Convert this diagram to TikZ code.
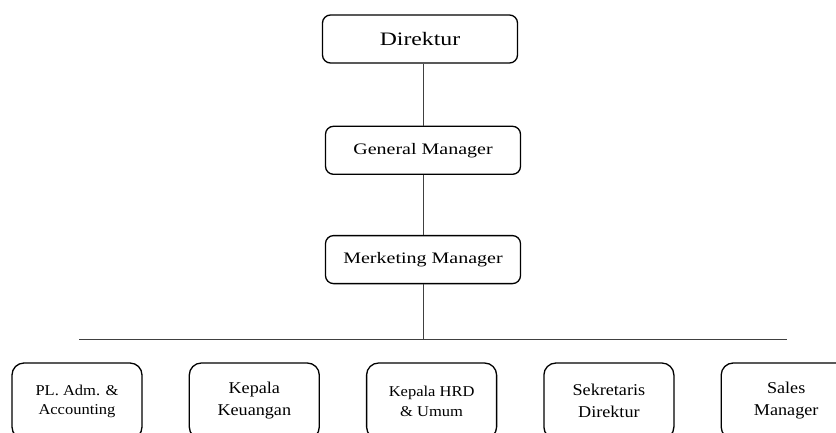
\documentclass[tikz,border=0pt]{standalone}
\usepackage{fontspec}
\setmainfont{Liberation Serif}[FakeStretch=1.25]
\newfontfamily\lowfont{Liberation Serif}[FakeStretch=1.1]
\usepackage{tikz}
\usetikzlibrary{positioning}
\tikzset{
    topbox/.style = {draw, line width=1.3pt, rounded corners=8pt,
                 minimum width=195pt, minimum height=48pt, inner sep=2pt, align=center},
    lowbox/.style = {draw, line width=1.3pt, rounded corners=12pt,
                 minimum width=130pt, minimum height=76pt, inner sep=2pt, align=center},
    link/.style = {line width=0.8pt, black!75},
}

\begin{document}
\begin{tikzpicture}[x=1pt,y=-1pt]
\useasboundingbox (0,0) rectangle (836,432);
 \node (dir) [topbox,font=\fontsize{19}{23}\selectfont] at (420,39) {Direktur};
 \node (gm)  [topbox,font=\fontsize{16}{19}\selectfont,xshift=3pt,node distance=62pt,below=of dir] {General Manager};
 \node (mm)  [topbox,font=\fontsize{16}{19}\selectfont,node distance=60pt,below=of gm] {Merketing Manager};

 \coordinate (busL) at (79,339);
 \coordinate (busR) at (787,339);

 \node (pl)  [lowbox,font=\lowfont\fontsize{15}{19}\selectfont] at (77,401) {PL. Adm. \&\\ Accounting};
 \node (keu) [lowbox,font=\lowfont\fontsize{16.5}{22}\selectfont,node distance=46pt,right=of pl] {Kepala\\ Keuangan};
 \node (hrd) [lowbox,font=\lowfont\fontsize{15}{20}\selectfont,node distance=46pt,right=of keu] {Kepala HRD\\ \& Umum};
 \node (sek) [lowbox,font=\lowfont\fontsize{16.5}{22}\selectfont,node distance=46pt,right=of hrd] {Sekretaris\\ Direktur};
 \node (sal) [lowbox,font=\lowfont\fontsize{16.5}{22}\selectfont,node distance=46pt,right=of sek] {Sales\\ Manager};

\draw[link] (gm |- dir.south) to (gm);
\draw[link] (gm) to (mm);
\draw[link] (mm) to (mm |- busL);
\draw[link] (busL) to (busR);
\end{tikzpicture}
\end{document}
